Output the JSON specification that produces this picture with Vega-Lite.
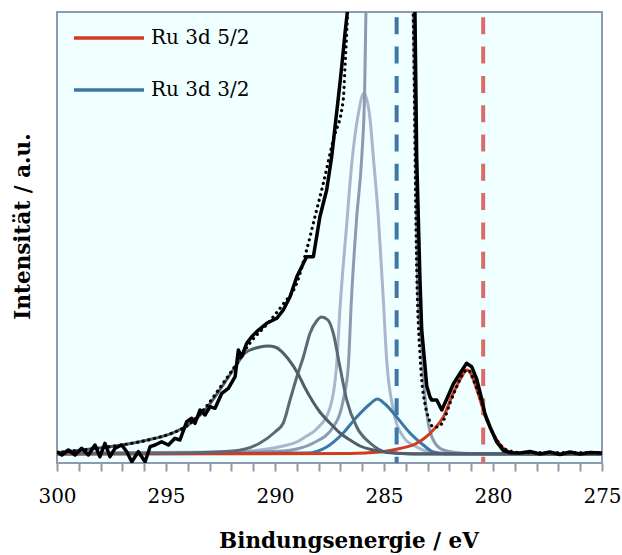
{
  "$schema": "https://vega.github.io/schema/vega-lite/v6.json",
  "width": 545,
  "height": 451,
  "autosize": {"type": "none"},
  "padding": {"left": 57, "top": 12, "right": 20, "bottom": 92},
  "background": "white",
  "config": {
    "view": {"stroke": "#8d99ae", "strokeWidth": 2, "fill": "#f0ffff"},
    "font": "DejaVu Serif",
    "axisY": {"title": "Intensität / a.u.", "labels": false, "ticks": false, "domain": false, "grid": false,
        "titleFont": "DejaVu Serif", "titleFontSize": 21.5, "titleFontWeight": "bold", "titleColor": "#000",
        "titleAngle": -90, "titleX": -28, "titleY": 214, "titleBaseline": "alphabetic", "titleAlign": "center"}
  },
  "data": {"values": [
    {"s":"C1","e":300,"i":1.3},{"s":"C1","e":298.56,"i":4.7},{"s":"C1","e":297.03,"i":9},{"s":"C1","e":295.5,"i":15.7},{"s":"C1","e":294.74,"i":20.7},{"s":"C1","e":293.98,"i":29},{"s":"C1","e":293.21,"i":44},{"s":"C1","e":292.44,"i":67},{"s":"C1","e":291.83,"i":87},{"s":"C1","e":291.38,"i":101},{"s":"C1","e":290.69,"i":107},{"s":"C1","e":290.32,"i":108},{"s":"C1","e":290.0,"i":107},{"s":"C1","e":289.39,"i":95},{"s":"C1","e":288.94,"i":80},{"s":"C1","e":288.62,"i":66},{"s":"C1","e":288.39,"i":57},{"s":"C1","e":287.94,"i":42},{"s":"C1","e":287.48,"i":31},{"s":"C1","e":287.02,"i":21},{"s":"C1","e":286.56,"i":14},{"s":"C1","e":286.1,"i":8},{"s":"C1","e":285.49,"i":4},{"s":"C1","e":284.27,"i":0.5},{"s":"C1","e":283,"i":0},{"s":"C1","e":275,"i":0},

    {"s":"C2","e":300,"i":0.3},{"s":"C2","e":294.22,"i":1},{"s":"C2","e":291.93,"i":3},{"s":"C2","e":290.69,"i":11},{"s":"C2","e":290.0,"i":22},{"s":"C2","e":289.62,"i":31},{"s":"C2","e":289.31,"i":54},{"s":"C2","e":289.0,"i":77},{"s":"C2","e":288.7,"i":97},{"s":"C2","e":288.39,"i":121},{"s":"C2","e":288.09,"i":133},{"s":"C2","e":287.87,"i":137},{"s":"C2","e":287.57,"i":134},{"s":"C2","e":287.33,"i":121},{"s":"C2","e":287.02,"i":87},{"s":"C2","e":286.71,"i":54},{"s":"C2","e":286.25,"i":27},{"s":"C2","e":285.64,"i":11},{"s":"C2","e":284.88,"i":2},{"s":"C2","e":283.81,"i":0.3},{"s":"C2","e":275,"i":0},

    {"s":"C3","e":300,"i":0.3},{"s":"C3","e":293.98,"i":1},{"s":"C3","e":291.15,"i":3},{"s":"C3","e":289.62,"i":8},{"s":"C3","e":289.0,"i":12},{"s":"C3","e":288.62,"i":17},{"s":"C3","e":288.09,"i":25},{"s":"C3","e":287.48,"i":46},{"s":"C3","e":287.17,"i":90},{"s":"C3","e":287.02,"i":145},{"s":"C3","e":286.71,"i":230},{"s":"C3","e":286.48,"i":290},{"s":"C3","e":286.18,"i":340},{"s":"C3","e":285.92,"i":361},{"s":"C3","e":285.64,"i":335},{"s":"C3","e":285.49,"i":297},{"s":"C3","e":285.26,"i":237},{"s":"C3","e":285.03,"i":154},{"s":"C3","e":284.88,"i":95},{"s":"C3","e":284.57,"i":44},{"s":"C3","e":284.11,"i":17},{"s":"C3","e":283.5,"i":7},{"s":"C3","e":282.89,"i":2},{"s":"C3","e":281.97,"i":0.5},{"s":"C3","e":275,"i":0},

    {"s":"C4","e":300,"i":1},{"s":"C4","e":291.15,"i":2},{"s":"C4","e":289.62,"i":3},{"s":"C4","e":289.0,"i":5},{"s":"C4","e":288.24,"i":11},{"s":"C4","e":287.33,"i":27},{"s":"C4","e":286.87,"i":54},{"s":"C4","e":286.64,"i":87},{"s":"C4","e":286.5,"i":152},{"s":"C4","e":286.25,"i":237},{"s":"C4","e":286.02,"i":297},{"s":"C4","e":285.89,"i":361},{"s":"C4","e":285.83,"i":442},{"s":"C4","e":285.76,"i":530},{"s":"C4","e":284.77,"i":1300},{"s":"C4","e":283.7,"i":530},{"s":"C4","e":283.66,"i":442},{"s":"C4","e":283.46,"i":174},{"s":"C4","e":283.27,"i":107},{"s":"C4","e":283.12,"i":57},{"s":"C4","e":282.97,"i":31},{"s":"C4","e":282.74,"i":14},{"s":"C4","e":282.28,"i":4},{"s":"C4","e":281.51,"i":1},{"s":"C4","e":280.6,"i":0.3},{"s":"C4","e":275,"i":0},

    {"s":"Ru 3d 3/2","e":300,"i":0},{"s":"Ru 3d 3/2","e":288.55,"i":1},{"s":"Ru 3d 3/2","e":287.63,"i":7},{"s":"Ru 3d 3/2","e":286.87,"i":21},{"s":"Ru 3d 3/2","e":286.25,"i":37},{"s":"Ru 3d 3/2","e":285.64,"i":50},{"s":"Ru 3d 3/2","e":285.31,"i":55},{"s":"Ru 3d 3/2","e":284.95,"i":50},{"s":"Ru 3d 3/2","e":284.42,"i":37},{"s":"Ru 3d 3/2","e":283.81,"i":21},{"s":"Ru 3d 3/2","e":283.2,"i":9},{"s":"Ru 3d 3/2","e":282.74,"i":2},{"s":"Ru 3d 3/2","e":282.2,"i":0.3},{"s":"Ru 3d 3/2","e":275,"i":0},

    {"s":"Ru 3d 5/2","e":300,"i":0},{"s":"Ru 3d 5/2","e":286.56,"i":0.5},{"s":"Ru 3d 5/2","e":285.18,"i":2},{"s":"Ru 3d 5/2","e":284.27,"i":5.5},{"s":"Ru 3d 5/2","e":283.5,"i":10.7},{"s":"Ru 3d 5/2","e":282.74,"i":24},{"s":"Ru 3d 5/2","e":282.28,"i":37},{"s":"Ru 3d 5/2","e":281.82,"i":61},{"s":"Ru 3d 5/2","e":281.44,"i":77},{"s":"Ru 3d 5/2","e":281.21,"i":84},{"s":"Ru 3d 5/2","e":280.98,"i":79},{"s":"Ru 3d 5/2","e":280.69,"i":61},{"s":"Ru 3d 5/2","e":280.29,"i":34},{"s":"Ru 3d 5/2","e":279.91,"i":17},{"s":"Ru 3d 5/2","e":279.53,"i":6},{"s":"Ru 3d 5/2","e":279.22,"i":2},{"s":"Ru 3d 5/2","e":278.3,"i":0},{"s":"Ru 3d 5/2","e":275,"i":0},

    {"s":"fit","e":300,"i":1.3},{"s":"fit","e":298.56,"i":4.7},{"s":"fit","e":297.03,"i":9},{"s":"fit","e":295.5,"i":15.7},{"s":"fit","e":294.74,"i":20.7},{"s":"fit","e":293.98,"i":29},{"s":"fit","e":293.21,"i":46},{"s":"fit","e":292.44,"i":69},{"s":"fit","e":291.83,"i":88},{"s":"fit","e":291.15,"i":111},{"s":"fit","e":290.32,"i":131},{"s":"fit","e":289.62,"i":150},{"s":"fit","e":289.0,"i":171},{"s":"fit","e":288.55,"i":204},{"s":"fit","e":288.17,"i":237},{"s":"fit","e":287.78,"i":271},{"s":"fit","e":287.33,"i":314},{"s":"fit","e":286.87,"i":354},{"s":"fit","e":286.79,"i":387},{"s":"fit","e":286.68,"i":437},{"s":"fit","e":286.55,"i":520},{"s":"fit","e":283.75,"i":520},{"s":"fit","e":283.66,"i":442},{"s":"fit","e":283.5,"i":184},{"s":"fit","e":283.35,"i":100},{"s":"fit","e":283.27,"i":74},{"s":"fit","e":283.12,"i":50},{"s":"fit","e":282.97,"i":37},{"s":"fit","e":282.74,"i":27},{"s":"fit","e":282.51,"i":27},{"s":"fit","e":282.2,"i":37},{"s":"fit","e":281.97,"i":51},{"s":"fit","e":281.67,"i":67},{"s":"fit","e":281.36,"i":81},{"s":"fit","e":281.13,"i":84},{"s":"fit","e":280.9,"i":74},{"s":"fit","e":280.6,"i":57},{"s":"fit","e":280.37,"i":41},{"s":"fit","e":280.14,"i":27},{"s":"fit","e":279.83,"i":14},{"s":"fit","e":279.37,"i":4},{"s":"fit","e":278.76,"i":1.5},{"s":"fit","e":275,"i":1.3},

    {"s":"data","e":300,"i":2.3},{"s":"data","e":299.78,"i":-1},{"s":"data","e":299.48,"i":4},{"s":"data","e":299.17,"i":-1},{"s":"data","e":298.87,"i":5.7},{"s":"data","e":298.56,"i":-1},{"s":"data","e":298.26,"i":9},{"s":"data","e":298.03,"i":-2.7},{"s":"data","e":297.8,"i":10.7},{"s":"data","e":297.57,"i":-2.7},{"s":"data","e":297.34,"i":5.7},{"s":"data","e":297.03,"i":9},{"s":"data","e":296.8,"i":2.3},{"s":"data","e":296.57,"i":-7.7},{"s":"data","e":296.27,"i":2.3},{"s":"data","e":295.96,"i":-7.7},{"s":"data","e":295.73,"i":7.3},{"s":"data","e":295.5,"i":9},{"s":"data","e":295.2,"i":12.3},{"s":"data","e":294.89,"i":9},{"s":"data","e":294.59,"i":15.7},{"s":"data","e":294.36,"i":14},{"s":"data","e":294.05,"i":32.3},{"s":"data","e":293.82,"i":35.7},{"s":"data","e":293.67,"i":30.7},{"s":"data","e":293.44,"i":44},{"s":"data","e":293.21,"i":39},{"s":"data","e":292.98,"i":47.3},{"s":"data","e":292.75,"i":45.7},{"s":"data","e":292.44,"i":60.7},{"s":"data","e":292.14,"i":65.7},{"s":"data","e":291.83,"i":77.3},{"s":"data","e":291.68,"i":104},{"s":"data","e":291.53,"i":97.3},{"s":"data","e":291.3,"i":110.7},{"s":"data","e":291.07,"i":117.3},{"s":"data","e":290.84,"i":122.3},{"s":"data","e":290.38,"i":130.7},{"s":"data","e":289.92,"i":135.7},{"s":"data","e":289.62,"i":144},{"s":"data","e":289.31,"i":157.3},{"s":"data","e":289.0,"i":177.3},{"s":"data","e":288.55,"i":197.3},{"s":"data","e":288.24,"i":197.3},{"s":"data","e":287.94,"i":237.3},{"s":"data","e":287.63,"i":264},{"s":"data","e":287.4,"i":297.3},{"s":"data","e":287.33,"i":310.7},{"s":"data","e":287.02,"i":370.7},{"s":"data","e":286.94,"i":387.3},{"s":"data","e":286.79,"i":420.7},{"s":"data","e":286.68,"i":442.3},{"s":"data","e":286.6,"i":520},{"s":"data","e":283.65,"i":520},{"s":"data","e":283.58,"i":442},{"s":"data","e":283.5,"i":297},{"s":"data","e":283.35,"i":174},{"s":"data","e":283.27,"i":124},{"s":"data","e":283.12,"i":88},{"s":"data","e":283.04,"i":68},{"s":"data","e":282.89,"i":57},{"s":"data","e":282.81,"i":54},{"s":"data","e":282.58,"i":54},{"s":"data","e":282.35,"i":44},{"s":"data","e":282.12,"i":55},{"s":"data","e":281.82,"i":70},{"s":"data","e":281.51,"i":80.7},{"s":"data","e":281.21,"i":90.7},{"s":"data","e":280.98,"i":87.3},{"s":"data","e":280.75,"i":75},{"s":"data","e":280.52,"i":55},{"s":"data","e":280.37,"i":40},{"s":"data","e":280.14,"i":27.3},{"s":"data","e":279.83,"i":12},{"s":"data","e":279.53,"i":3.5},{"s":"data","e":279.22,"i":1.3},{"s":"data","e":278.76,"i":1},{"s":"data","e":278.3,"i":2.5},{"s":"data","e":277.84,"i":0},{"s":"data","e":277.39,"i":2},{"s":"data","e":276.93,"i":-0.5},{"s":"data","e":276.47,"i":2},{"s":"data","e":276.01,"i":0},{"s":"data","e":275.55,"i":1.5},{"s":"data","e":275,"i":1},

    {"s":"refblue","e":284.42},{"s":"refred","e":280.45}
  ]},
  "encoding": {
    "x": {"field": "e", "type": "quantitative",
      "scale": {"domain": [275, 300], "reverse": true, "nice": false, "zero": false},
      "axis": {"title": "Bindungsenergie / eV",
        "values": [275,276,277,278,279,280,281,282,283,284,285,286,287,288,289,290,291,292,293,294,295,296,297,298,299,300],
        "labelExpr": "datum.value % 5 === 0 ? datum.label : ''",
        "format": "d", "grid": false, "domain": false,
        "tickColor": "#8d99ae", "tickWidth": 2, "tickSize": 8,
        "labelFont": "DejaVu Serif", "labelFontSize": 20, "labelColor": "#000", "labelPadding": 15,
        "labelFlush": false, "labelOverlap": false,
        "titleFont": "DejaVu Serif", "titleFontSize": 21.5, "titleFontWeight": "bold", "titleColor": "#000",
        "titleX": 291.5, "titleY": 84, "titleBaseline": "alphabetic", "titleAlign": "center"}}
  },
  "layer": [
    {"transform": [{"filter": "datum.s === 'C3'"}],
     "mark": {"type": "line", "clip": true, "interpolate": "monotone", "stroke": "#aab6cc", "strokeWidth": 3},
     "encoding": {"y": {"field": "i", "type": "quantitative", "title": "Intensität / a.u.", "scale": {"domain": [-9, 442], "nice": false, "zero": false}}}},
    {"transform": [{"filter": "datum.s === 'C4'"}],
     "mark": {"type": "line", "clip": true, "interpolate": "monotone", "stroke": "#8e9ab0", "strokeWidth": 3},
     "encoding": {"y": {"field": "i", "type": "quantitative", "title": "Intensität / a.u.", "scale": {"domain": [-9, 442], "nice": false, "zero": false}}}},
    {"transform": [{"filter": "datum.s === 'Ru 3d 3/2' || datum.s === 'Ru 3d 5/2'"}],
     "mark": {"type": "line", "clip": true, "interpolate": "monotone", "strokeWidth": 3},
     "encoding": {
       "y": {"field": "i", "type": "quantitative", "title": "Intensität / a.u.", "scale": {"domain": [-9, 442], "nice": false, "zero": false}},
       "color": {"field": "s", "type": "nominal",
       "scale": {"domain": ["Ru 3d 5/2", "Ru 3d 3/2"], "range": ["#d33a20", "#3c77a5"]},
       "legend": {"orient": "none", "legendX": 15, "legendY": -11, "title": null,
         "symbolType": "stroke", "symbolSize": 4900, "symbolStrokeWidth": 3.5,
         "labelFont": "DejaVu Serif", "labelFontSize": 20, "labelColor": "#000",
         "labelOffset": 5, "rowPadding": 5, "labelLimit": 300}}}},
    {"transform": [{"filter": "datum.s === 'C2'"}],
     "mark": {"type": "line", "clip": true, "interpolate": "monotone", "stroke": "#5f6674", "strokeWidth": 3},
     "encoding": {"y": {"field": "i", "type": "quantitative", "title": "Intensität / a.u.", "scale": {"domain": [-9, 442], "nice": false, "zero": false}}}},
    {"transform": [{"filter": "datum.s === 'C1'"}],
     "mark": {"type": "line", "clip": true, "interpolate": "monotone", "stroke": "#555c68", "strokeWidth": 3},
     "encoding": {"y": {"field": "i", "type": "quantitative", "title": "Intensität / a.u.", "scale": {"domain": [-9, 442], "nice": false, "zero": false}}}},
    {"transform": [{"filter": "datum.s === 'refblue'"}],
     "mark": {"type": "rule", "stroke": "#3b78a6", "strokeWidth": 4, "strokeDash": [17, 12.3], "strokeDashOffset": 24},
     "encoding": {}},
    {"transform": [{"filter": "datum.s === 'refred'"}],
     "mark": {"type": "rule", "stroke": "#d96c66", "strokeWidth": 4, "strokeDash": [17, 12.3], "strokeDashOffset": 24},
     "encoding": {}},
    {"transform": [{"filter": "datum.s === 'data'"}],
     "mark": {"type": "line", "clip": true, "stroke": "#000000", "strokeWidth": 3.5, "strokeJoin": "round"},
     "encoding": {"y": {"field": "i", "type": "quantitative", "title": "Intensität / a.u.", "scale": {"domain": [-9, 442], "nice": false, "zero": false}}}},
    {"transform": [{"filter": "datum.s === 'fit'"}],
     "mark": {"type": "line", "clip": true, "interpolate": "monotone", "stroke": "#000000", "strokeWidth": 3.2, "strokeDash": [0.1, 5.7], "strokeCap": "round"},
     "encoding": {"y": {"field": "i", "type": "quantitative", "title": "Intensität / a.u.", "scale": {"domain": [-9, 442], "nice": false, "zero": false}}}}
  ]
}
